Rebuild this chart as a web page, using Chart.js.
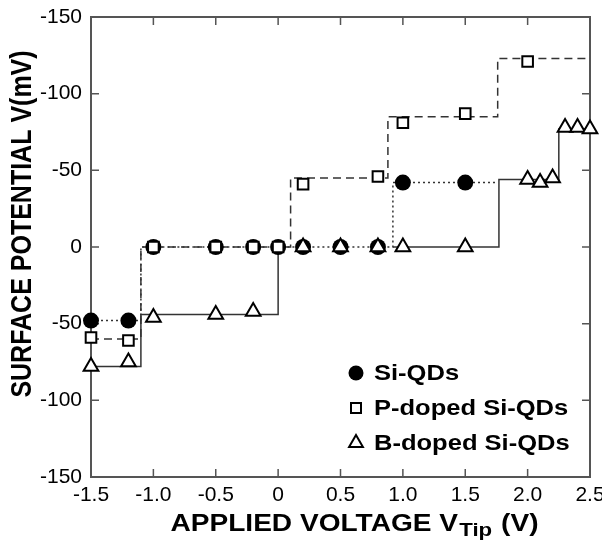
<!DOCTYPE html>
<html>
<head>
<meta charset="utf-8">
<script src="https://cdn.jsdelivr.net/npm/chart.js@4.4.1/dist/chart.umd.min.js"></script>
<style>
  html, body { margin: 0; padding: 0; background: #fff; }
</style>
</head>
<body>
<canvas id="surfaceChart" width="602" height="543"></canvas>
<script>
// measured points (plot value: negative = up)
const siVoltage = [-1.5, -1.2, -1.0, -0.5, -0.2, 0, 0.2, 0.5, 0.8, 1.0, 1.5];
const siPotential = [48, 48, 0, 0, 0, 0, 0, 0, 0, -42, -42];
const pVoltage = [-1.5, -1.2, -1.0, -0.5, -0.2, 0, 0.2, 0.8, 1.0, 1.5, 2.0];
const pPotential = [59, 61, 0, 0, 0, 0, -41, -46, -81, -87, -121];
const bVoltage = [-1.5, -1.2, -1.0, -0.5, -0.2, 0.2, 0.5, 0.8, 1.0, 1.5, 2.0, 2.1, 2.2, 2.3, 2.4, 2.5];
const bPotential = [78, 75, 46, 44, 42, 0, 0, 0, 0, 0, -44, -42, -45, -78, -78, -77];

// step guide lines
const siStepV = [-1.5, -1.1, 0.92, 1.75];
const siStepP = [48, 0, -42, -42];
const pStepV = [-1.5, -1.1, 0.1, 0.88, 1.76, 2.5];
const pStepP = [60, 0, -45, -85, -123, -123];
const bStepV = [-1.5, -1.1, 0, 0.5, 0.92, 1.77, 2.25, 2.5];
const bStepP = [78, 44, 0, null, 0, -44, -77, -77];

const seriesNames = ['Si-QDs', 'P-doped Si-QDs', 'B-doped Si-QDs'];
const xTickLabels = ['-1.5', '-1.0', '-0.5', '0', '0.5', '1.0', '1.5', '2.0', '2.5'];
const yTickLabels = ['-150', '-100', '-50', '0', '-50', '-100', '-150'];

const pts = (xs, ys) => xs.map((v, i) => ({ x: v, y: ys[i] }));

const stepLine = (xs, ys, dash) => ({
  data: pts(xs, ys),
  showLine: true,
  stepped: true,
  spanGaps: false,
  borderColor: '#333',
  borderWidth: 1.5,
  borderDash: dash,
  pointRadius: 0,
  order: 10
});

const frame = {
  id: 'frame',
  beforeDatasetsDraw(chart) {
    const { ctx, chartArea: a, scales: { x, y } } = chart;
    ctx.save();
    ctx.strokeStyle = '#555';
    ctx.lineWidth = 2;
    ctx.strokeRect(a.left, a.top, a.right - a.left, a.bottom - a.top);
    ctx.lineWidth = 1.5;
    ctx.beginPath();
    x.ticks.forEach(t => {
      const px = x.getPixelForValue(t.value);
      if (px <= a.left + 1 || px >= a.right - 1) return;
      ctx.moveTo(px, a.bottom); ctx.lineTo(px, a.bottom - 8);
      ctx.moveTo(px, a.top); ctx.lineTo(px, a.top + 8);
    });
    y.ticks.forEach(t => {
      const py = y.getPixelForValue(t.value);
      if (py <= a.top + 1 || py >= a.bottom - 1) return;
      ctx.moveTo(a.left, py); ctx.lineTo(a.left + 8, py);
      ctx.moveTo(a.right, py); ctx.lineTo(a.right - 8, py);
    });
    ctx.stroke();
    ctx.restore();
  }
};

const labels = {
  id: 'labels',
  afterDraw(chart) {
    const { ctx, chartArea: a } = chart;
    ctx.save();
    ctx.fillStyle = '#000';

    // y title
    ctx.save();
    ctx.translate(31, 224);
    ctx.scale(1.15, 1);
    ctx.rotate(-Math.PI / 2);
    ctx.font = 'bold 25px "Liberation Sans", Arial, sans-serif';
    ctx.textAlign = 'center';
    ctx.textBaseline = 'alphabetic';
    ctx.fillText('SURFACE POTENTIAL V(mV)', 0, 0);
    ctx.restore();

    // x title with subscript
    const sx = 1.17;
    const big = 'bold 24px "Liberation Sans", Arial, sans-serif';
    const small = 'bold 19px "Liberation Sans", Arial, sans-serif';
    ctx.font = big;
    const w1 = ctx.measureText('APPLIED VOLTAGE V').width;
    const w3 = ctx.measureText(' (V)').width;
    ctx.font = small;
    const w2 = ctx.measureText('Tip').width;
    const total = (w1 + w2 + w3 + 2) * sx;
    const cx = (a.left + a.right) / 2 + 14;
    const base = a.bottom + 54;
    ctx.save();
    ctx.translate(cx - total / 2, base);
    ctx.scale(sx, 1);
    ctx.textAlign = 'left';
    ctx.textBaseline = 'alphabetic';
    ctx.font = big;
    ctx.fillText('APPLIED VOLTAGE V', 0, 0);
    ctx.font = small;
    ctx.fillText('Tip', w1 + 1, 5);
    ctx.font = big;
    ctx.fillText(' (V)', w1 + w2 + 2, 0);
    ctx.restore();

    // legend
    const lx = a.right - 234;
    const styles = ['circle', 'rect', 'triangle'];
    seriesNames.forEach((name, i) => {
      const ly = a.bottom - 104 + i * 35;
      ctx.beginPath();
      ctx.lineWidth = 2;
      ctx.strokeStyle = '#000';
      if (styles[i] === 'circle') {
        ctx.arc(lx, ly, 7.5, 0, Math.PI * 2);
        ctx.fillStyle = '#000';
        ctx.fill();
      } else if (styles[i] === 'rect') {
        ctx.rect(lx - 5, ly - 5, 10, 10);
        ctx.fillStyle = '#fff';
        ctx.fill();
        ctx.stroke();
      } else {
        const r = 8;
        ctx.moveTo(lx, ly - r);
        ctx.lineTo(lx + r * 0.866, ly + r * 0.5);
        ctx.lineTo(lx - r * 0.866, ly + r * 0.5);
        ctx.closePath();
        ctx.fillStyle = '#fff';
        ctx.fill();
        ctx.stroke();
      }
      ctx.save();
      ctx.translate(lx + 18, ly);
      ctx.scale(1.16, 1);
      ctx.fillStyle = '#000';
      ctx.font = 'bold 22px "Liberation Sans", Arial, sans-serif';
      ctx.textAlign = 'left';
      ctx.textBaseline = 'middle';
      ctx.fillText(name, 0, 1);
      ctx.restore();
    });
    ctx.restore();
  }
};

const tickFont = { family: '"Liberation Sans", Arial, sans-serif', size: 21 };

new Chart(document.getElementById('surfaceChart').getContext('2d'), {
  type: 'scatter',
  data: {
    datasets: [
      stepLine(siStepV, siStepP, [2, 3]),
      stepLine(pStepV, pStepP, [8, 5]),
      stepLine(bStepV, bStepP, []),
      {
        label: seriesNames[0],
        data: pts(siVoltage, siPotential),
        pointStyle: 'circle',
        pointRadius: 8,
        pointBackgroundColor: '#000',
        pointBorderColor: '#000',
        pointBorderWidth: 0,
        clip: false,
        order: 3
      },
      {
        label: seriesNames[1],
        data: pts(pVoltage, pPotential),
        pointStyle: 'rect',
        pointRadius: 7.5,
        pointBackgroundColor: '#fff',
        pointBorderColor: '#000',
        pointBorderWidth: 2,
        clip: false,
        order: 2
      },
      {
        label: seriesNames[2],
        data: pts(bVoltage, bPotential),
        pointStyle: 'triangle',
        pointRadius: 8.5,
        pointBackgroundColor: '#fff',
        pointBorderColor: '#000',
        pointBorderWidth: 2,
        clip: false,
        order: 1
      }
    ]
  },
  options: {
    responsive: false,
    animation: false,
    events: [],
    layout: { padding: { top: 17, right: 12, left: 0, bottom: 0 } },
    plugins: { legend: { display: false }, tooltip: { enabled: false } },
    scales: {
      x: {
        type: 'linear',
        min: -1.5,
        max: 2.5,
        ticks: {
          stepSize: 0.5,
          color: '#000',
          font: tickFont,
          padding: 6,
          maxRotation: 0,
          callback: (v, i) => xTickLabels[i]
        },
        grid: { drawOnChartArea: false, drawTicks: false },
        border: { display: false },
        afterFit(s) { s.height = 66; s.paddingLeft = 0; s.paddingRight = 0; }
      },
      y: {
        type: 'linear',
        reverse: true,
        min: -150,
        max: 150,
        ticks: {
          stepSize: 50,
          color: '#000',
          font: tickFont,
          padding: 9,
          callback: (v, i) => yTickLabels[i]
        },
        grid: { drawOnChartArea: false, drawTicks: false },
        border: { display: false },
        afterFit(s) { s.width = 91; s.paddingTop = 0; s.paddingBottom = 0; }
      }
    }
  },
  plugins: [frame, labels]
});
</script>
</body>
</html>
